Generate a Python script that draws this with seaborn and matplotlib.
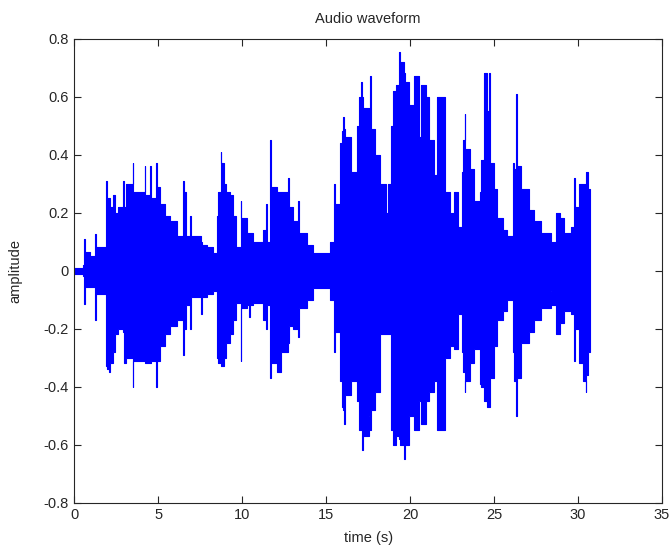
import numpy as np
import pandas as pd
import seaborn as sb
import matplotlib
matplotlib.use("Agg")
import matplotlib.pyplot as plt

# envelope of the waveform: segment start (s), upper and lower peak
seg_time = [0.00, 0.54, 0.58, 0.63, 0.95, 1.23, 1.28, 1.87, 1.92, 2.05, 2.12, 2.32, 2.45, 2.62, 2.92, 2.98,
            3.10, 3.47, 3.52, 4.19, 4.24, 4.49, 4.54, 4.86, 4.91, 5.10, 5.40, 5.70, 6.09, 6.47, 6.53, 6.63,
            6.91, 6.96, 7.55, 7.60, 7.90, 8.28, 8.48, 8.55, 8.71, 8.76, 8.94, 9.01, 9.29, 9.47, 9.63, 9.90,
            9.95, 10.26, 10.40, 10.45, 10.66, 11.25, 11.42, 11.50, 11.67, 11.72, 12.05, 12.34, 12.72, 12.77,
            13.04, 13.32, 13.37, 13.83, 14.23, 15.25, 15.44, 15.50, 15.82, 15.92, 16.03, 16.08, 16.14, 16.48,
            16.86, 16.97, 17.10, 17.15, 17.22, 17.54, 17.62, 17.67, 17.90, 18.20, 18.55, 18.70, 18.86, 18.96,
            19.15, 19.33, 19.38, 19.66, 19.72, 19.96, 20.25, 20.55, 20.62, 20.95, 21.15, 21.45, 21.62, 22.10,
            22.38, 22.64, 22.86, 23.06, 23.16, 23.24, 23.29, 23.55, 23.83, 24.17, 24.23, 24.42, 24.56, 24.71,
            24.77, 25.00, 25.20, 25.54, 25.74, 26.11, 26.20, 26.29, 26.34, 26.60, 27.10, 27.40, 27.80, 28.38,
            28.45, 28.69, 28.90, 29.19, 29.58, 29.76, 29.82, 30.03, 30.32, 30.45, 30.50, 30.62, 30.70]
upper = [0.01, 0.02, 0.11, 0.065, 0.05, 0.126, 0.08, 0.31, 0.25, 0.25, 0.22, 0.26, 0.20, 0.22, 0.31, 0.22,
         0.30, 0.37, 0.27, 0.36, 0.26, 0.36, 0.25, 0.37, 0.29, 0.23, 0.19, 0.17, 0.12, 0.31, 0.27, 0.12,
         0.19, 0.12, 0.10, 0.09, 0.08, 0.06, 0.19, 0.27, 0.41, 0.37, 0.30, 0.27, 0.26, 0.19, 0.08, 0.24,
         0.18, 0.13, 0.13, 0.13, 0.10, 0.14, 0.23, 0.10, 0.45, 0.29, 0.27, 0.27, 0.32, 0.22,
         0.17, 0.24, 0.13, 0.09, 0.06, 0.10, 0.30, 0.23, 0.44, 0.48, 0.53, 0.49, 0.46, 0.34,
         0.50, 0.60, 0.65, 0.60, 0.56, 0.46, 0.67, 0.49, 0.40, 0.30, 0.20, 0.30, 0.50, 0.62,
         0.64, 0.755, 0.72, 0.68, 0.65, 0.57, 0.67, 0.46, 0.64, 0.60, 0.45, 0.33, 0.60, 0.27,
         0.20, 0.27, 0.15, 0.34, 0.45, 0.54, 0.42, 0.35, 0.24, 0.27, 0.38, 0.68, 0.55, 0.68,
         0.37, 0.28, 0.18, 0.14, 0.12, 0.37, 0.35, 0.61, 0.36, 0.28, 0.21, 0.17, 0.13, 0.06,
         0.10, 0.20, 0.18, 0.13, 0.15, 0.32, 0.22, 0.30, 0.30, 0.30, 0.34, 0.28, 0.00]
lower = [-0.01, -0.02, -0.115, -0.055, -0.055, -0.17, -0.08, -0.33, -0.34, -0.35, -0.32, -0.28, -0.22, -0.20, -0.21, -0.32,
         -0.30, -0.40, -0.31, -0.30, -0.32, -0.32, -0.31, -0.40, -0.31, -0.26, -0.22, -0.19, -0.17, -0.29, -0.20, -0.12,
         -0.20, -0.09, -0.15, -0.09, -0.08, -0.07, -0.30, -0.32, -0.32, -0.33, -0.30, -0.25, -0.22, -0.17, -0.11, -0.31,
         -0.13, -0.12, -0.16, -0.12, -0.11, -0.17, -0.20, -0.12, -0.37, -0.32, -0.35, -0.28, -0.25, -0.19,
         -0.20, -0.23, -0.13, -0.10, -0.06, -0.10, -0.28, -0.21, -0.38, -0.47, -0.48, -0.53, -0.43, -0.38,
         -0.45, -0.55, -0.55, -0.62, -0.57, -0.50, -0.55, -0.48, -0.42, -0.22, -0.22, -0.22, -0.55, -0.60,
         -0.57, -0.58, -0.60, -0.65, -0.60, -0.50, -0.55, -0.45, -0.53, -0.45, -0.42, -0.38, -0.55, -0.30,
         -0.26, -0.27, -0.15, -0.28, -0.35, -0.42, -0.38, -0.32, -0.27, -0.39, -0.40, -0.45, -0.47, -0.47,
         -0.37, -0.26, -0.17, -0.14, -0.10, -0.28, -0.38, -0.50, -0.37, -0.25, -0.21, -0.17, -0.13, -0.07,
         -0.12, -0.22, -0.18, -0.14, -0.15, -0.31, -0.20, -0.32, -0.38, -0.42, -0.36, -0.28, 0.00]

xticks = [0, 5, 10, 15, 20, 25, 30, 35]
yticks = [-0.8, -0.6, -0.4, -0.2, 0, 0.2, 0.4, 0.6, 0.8]
ytick_labels = ["-0.8", "-0.6", "-0.4", "-0.2", "0", "0.2", "0.4", "0.6", "0.8"]

sb.set_style("ticks")
plt.rcParams['font.family'] = ['Liberation Sans', 'DejaVu Sans']
plt.rcParams['axes.unicode_minus'] = False

df = pd.DataFrame({"time": seg_time, "upper": upper, "lower": lower})

fig = plt.figure(figsize=(6.71, 5.48), dpi=100)
ax = fig.add_axes([0.1107, 0.0827, 0.8759, 0.8467])

# filled envelope plus its step edges
ax.fill_between(df["time"], df["lower"], df["upper"], step="post", color="#0000ff", linewidth=0)
sb.lineplot(data=df, x="time", y="upper", ax=ax, color="#0000ff", linewidth=0.8,
            drawstyle="steps-post", estimator=None)
sb.lineplot(data=df, x="time", y="lower", ax=ax, color="#0000ff", linewidth=0.8,
            drawstyle="steps-post", estimator=None)

ax.set_xlim(0, 35)
ax.set_ylim(-0.8, 0.8)
ax.set_xticks(xticks)
ax.set_xticklabels([str(v) for v in xticks])
ax.set_yticks(yticks)
ax.set_yticklabels(ytick_labels)
ax.tick_params(direction="in", top=True, right=True, length=5, width=0.8,
               labelsize=10.5, color="#262626", pad=4)
for s in ax.spines.values():
    s.set_color("#262626")
    s.set_linewidth(0.8)

ax.set_title("Audio waveform", fontsize=10.5, pad=11)
ax.set_xlabel("time (s)", fontsize=10.5, labelpad=6)
ax.set_ylabel("amplitude", fontsize=10.5, labelpad=15)

plt.savefig("out.png", dpi=100)
